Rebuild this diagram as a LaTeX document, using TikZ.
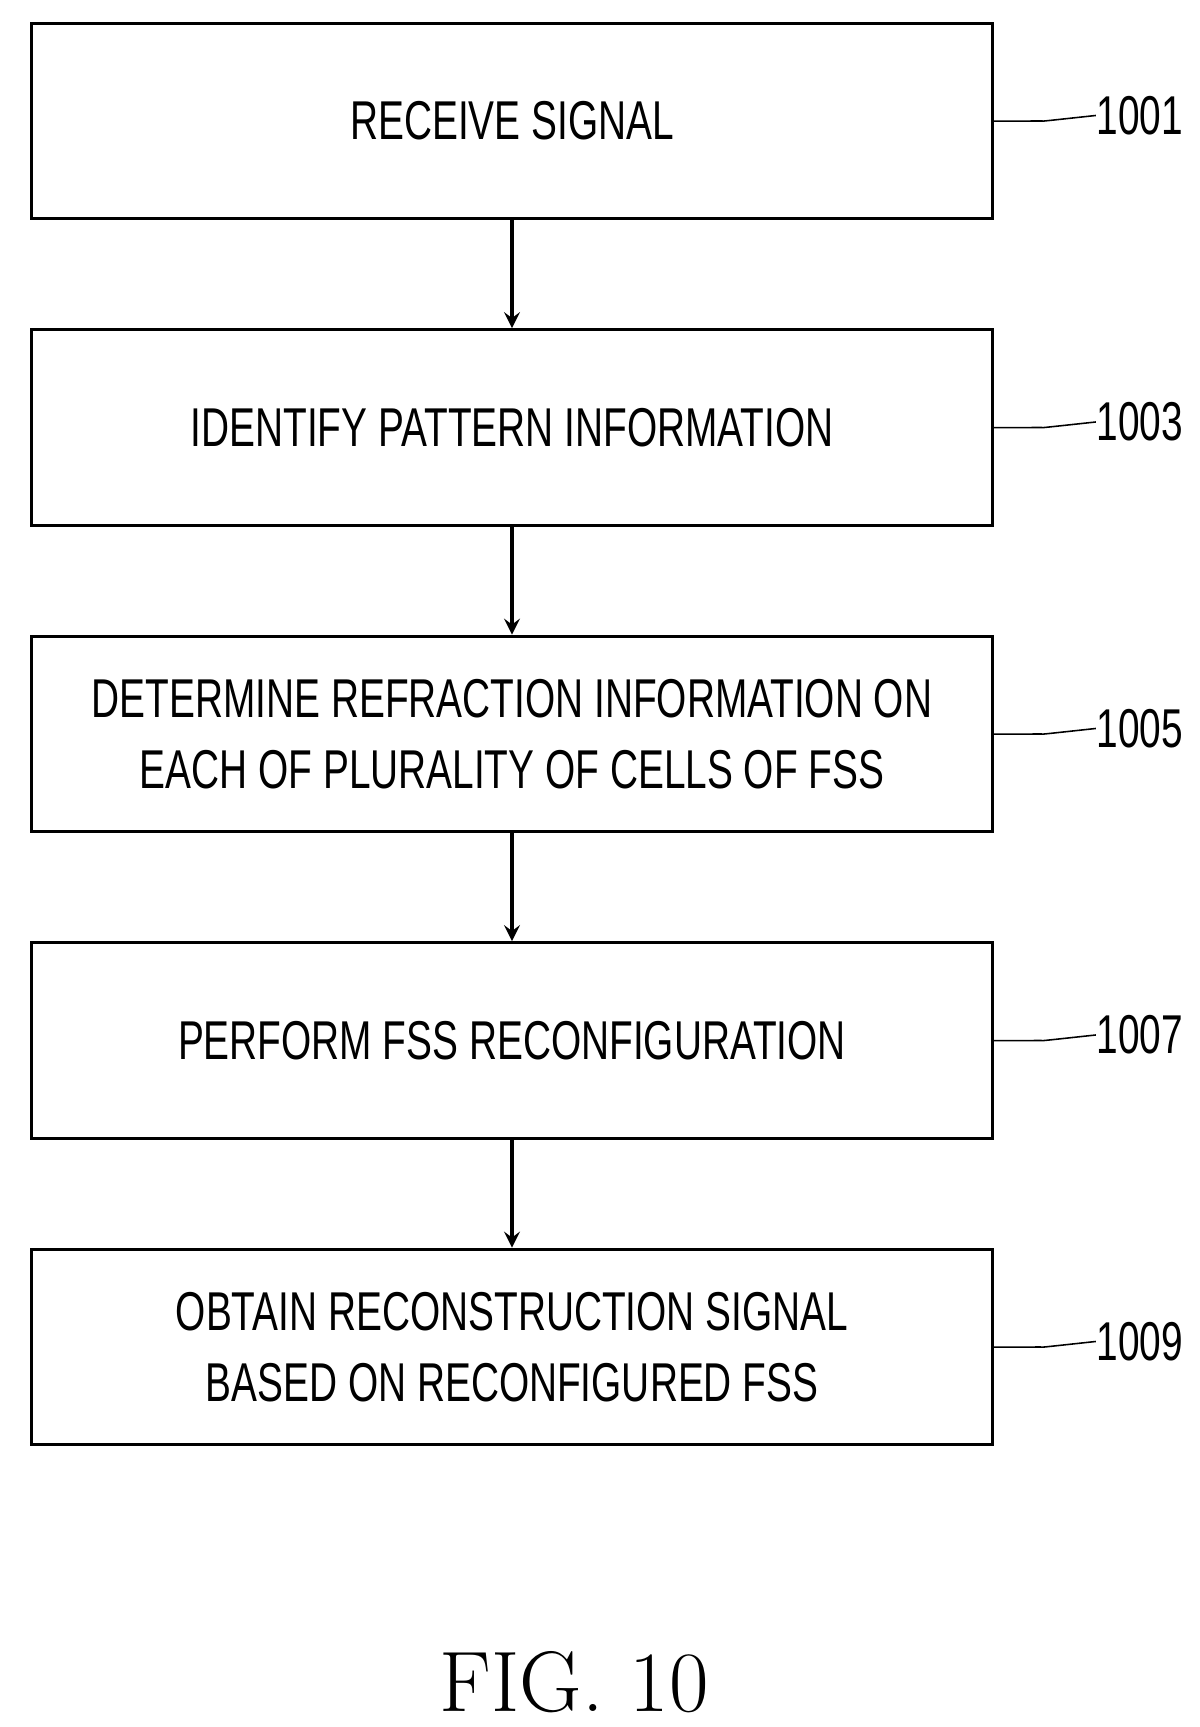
\documentclass[tikz,border=0pt]{standalone}
\usepackage{fontspec}
\setsansfont{Liberation Sans}
\usetikzlibrary{positioning}
\tikzset{schritt/.style={rectangle,draw,thick,minimum width=8.64cm,minimum height=1.76cm,inner sep=0,align=center,font=\sffamily\fontsize{14}{18}\selectfont},
	pfeil/.style={->,>=stealth,thick},
	marke/.style={font=\sffamily\fontsize{14}{17}\selectfont,anchor=west,inner sep=0}}
\newcommand{\eng}[1]{\scalebox{0.71}[1]{#1}}
\begin{document}
\begin{tikzpicture}[x=0.01cm,y=-0.01cm]
  \useasboundingbox (0,0) rectangle (1080,1555);
  \node (s1) [schritt] at (461,109) {\eng{RECEIVE SIGNAL}};
  \node (s2) [schritt, below=0.97cm of s1] {\eng{IDENTIFY PATTERN INFORMATION}};
  \node (s3) [schritt, below=0.97cm of s2] {\eng{DETERMINE REFRACTION INFORMATION ON}\\\eng{EACH OF PLURALITY OF CELLS OF FSS}};
  \node (s4) [schritt, below=0.97cm of s3] {\eng{PERFORM FSS RECONFIGURATION}};
  \node (s5) [schritt, below=0.97cm of s4] {\eng{OBTAIN RECONSTRUCTION SIGNAL}\\\eng{BASED ON RECONFIGURED FSS}};
  \foreach \a/\b in {s1/s2,s2/s3,s3/s4,s4/s5}
    \draw [pfeil] (\a) -- (\b);
  \foreach \s/\n in {s1/1001,s2/1003,s3/1005,s4/1007,s5/1009} {
    \node (m\n) [marke] at ([xshift=0.92cm,yshift=0.05cm]\s.east) {\eng{\n}};
    \draw [thin] (\s.east) .. controls +(0.15,0.12) and +(-0.25,-0.1) .. ([xshift=0.45cm,yshift=0cm]\s.east)
      .. controls +(0.25,0.1) and +(-0.15,-0.05) .. (m\n.west);
  }
  \node (fig) at (517,1515) {\fontsize{22}{22}\selectfont FIG.~10};
\end{tikzpicture}
\end{document}
